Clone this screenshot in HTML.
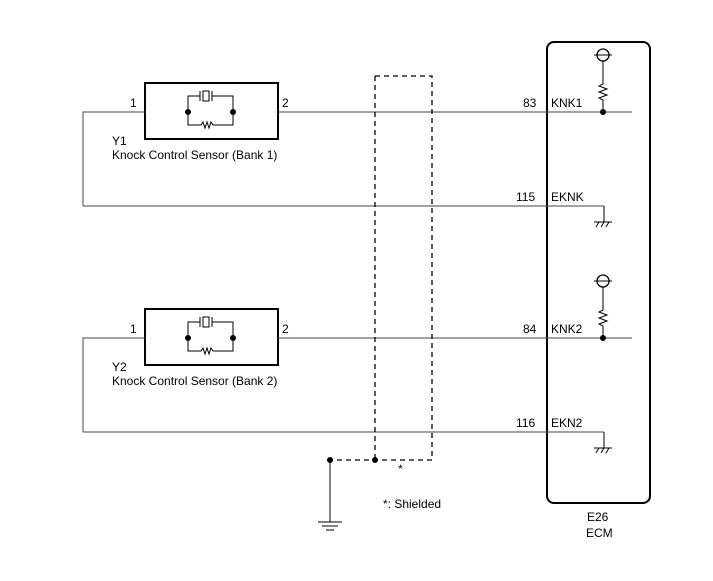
<html><body style="margin:0;background:#fff">
<svg width="713" height="581" xmlns="http://www.w3.org/2000/svg" font-family="Liberation Sans, sans-serif" font-size="12" fill="none" stroke="#000">
<defs>
<g id="sens">
<rect x="145" y="0" width="133" height="56" stroke-width="2"/>
<path d="M188 29 V13 H200 M200 8 V18 M203 8 H209 V18 H203 Z M212 8 V18 M212 13 H233 V29" stroke-width="1"/>
<path d="M188 29 V42 H201 l2 -3 l2 6 l2 -6 l2 6 l2 -6 l2 3 H233 V29" stroke-width="1"/>
<circle cx="188" cy="29" r="2.5" fill="#000"/><circle cx="233" cy="29" r="2.5" fill="#000"/>
</g>
<g id="pull">
<circle cx="603" cy="0" r="6" stroke-width="1.3"/>
<path d="M594 0 H612 M603 6 V29 l-4 2 l8 3 l-8 3 l8 3 l-8 3 l4 2 V57" stroke-width="1"/>
<circle cx="603" cy="57" r="3" fill="#000" stroke="none"/>
</g>
<g id="gnd"><path d="M604 0 V16 M594 16 H612 M596 21 l3 -5 M601 21 l3 -5 M606 21 l3 -5" stroke-width="1"/></g>
</defs>
<use href="#sens" y="83"/>
<use href="#sens" y="309"/>
<rect x="547" y="42" width="103" height="461" rx="7" stroke-width="2"/>
<g stroke-width="1" stroke="#444">
<path d="M83 206 V112 H145 M278 112 H632"/>
<path d="M83 206 H604"/>
<path d="M83 432 V338 H145 M278 338 H632"/>
<path d="M83 432 H604"/>
</g>
<use href="#pull" y="55"/>
<use href="#pull" y="281"/>
<use href="#gnd" y="206"/>
<use href="#gnd" y="432"/>
<path d="M375 76 H432 V460 H330 M375 76 V460" stroke-width="1.3" stroke-dasharray="5,4"/>
<circle cx="375" cy="460" r="3" fill="#000" stroke="none"/>
<circle cx="330" cy="460" r="3" fill="#000" stroke="none"/>
<path d="M330 460 V522 M318 522 H342 M322 526 H338 M326 530 H334" stroke-width="1"/>
<g fill="#000" stroke="none">
<text x="130" y="107">1</text><text x="282" y="107">2</text>
<text x="130" y="333">1</text><text x="282" y="333">2</text>
<text x="112" y="145">Y1</text><text x="112" y="159">Knock Control Sensor (Bank 1)</text>
<text x="112" y="371">Y2</text><text x="112" y="385">Knock Control Sensor (Bank 2)</text>
<text x="523" y="107">83</text><text x="551" y="107">KNK1</text>
<text x="516" y="201">115</text><text x="551" y="201">EKNK</text>
<text x="523" y="333">84</text><text x="551" y="333">KNK2</text>
<text x="516" y="427">116</text><text x="551" y="427">EKN2</text>
<text x="398" y="473">*</text>
<text x="383" y="508">*: Shielded</text>
<text x="587" y="521">E26</text><text x="586" y="537">ECM</text>
</g>
</svg>
</body></html>
